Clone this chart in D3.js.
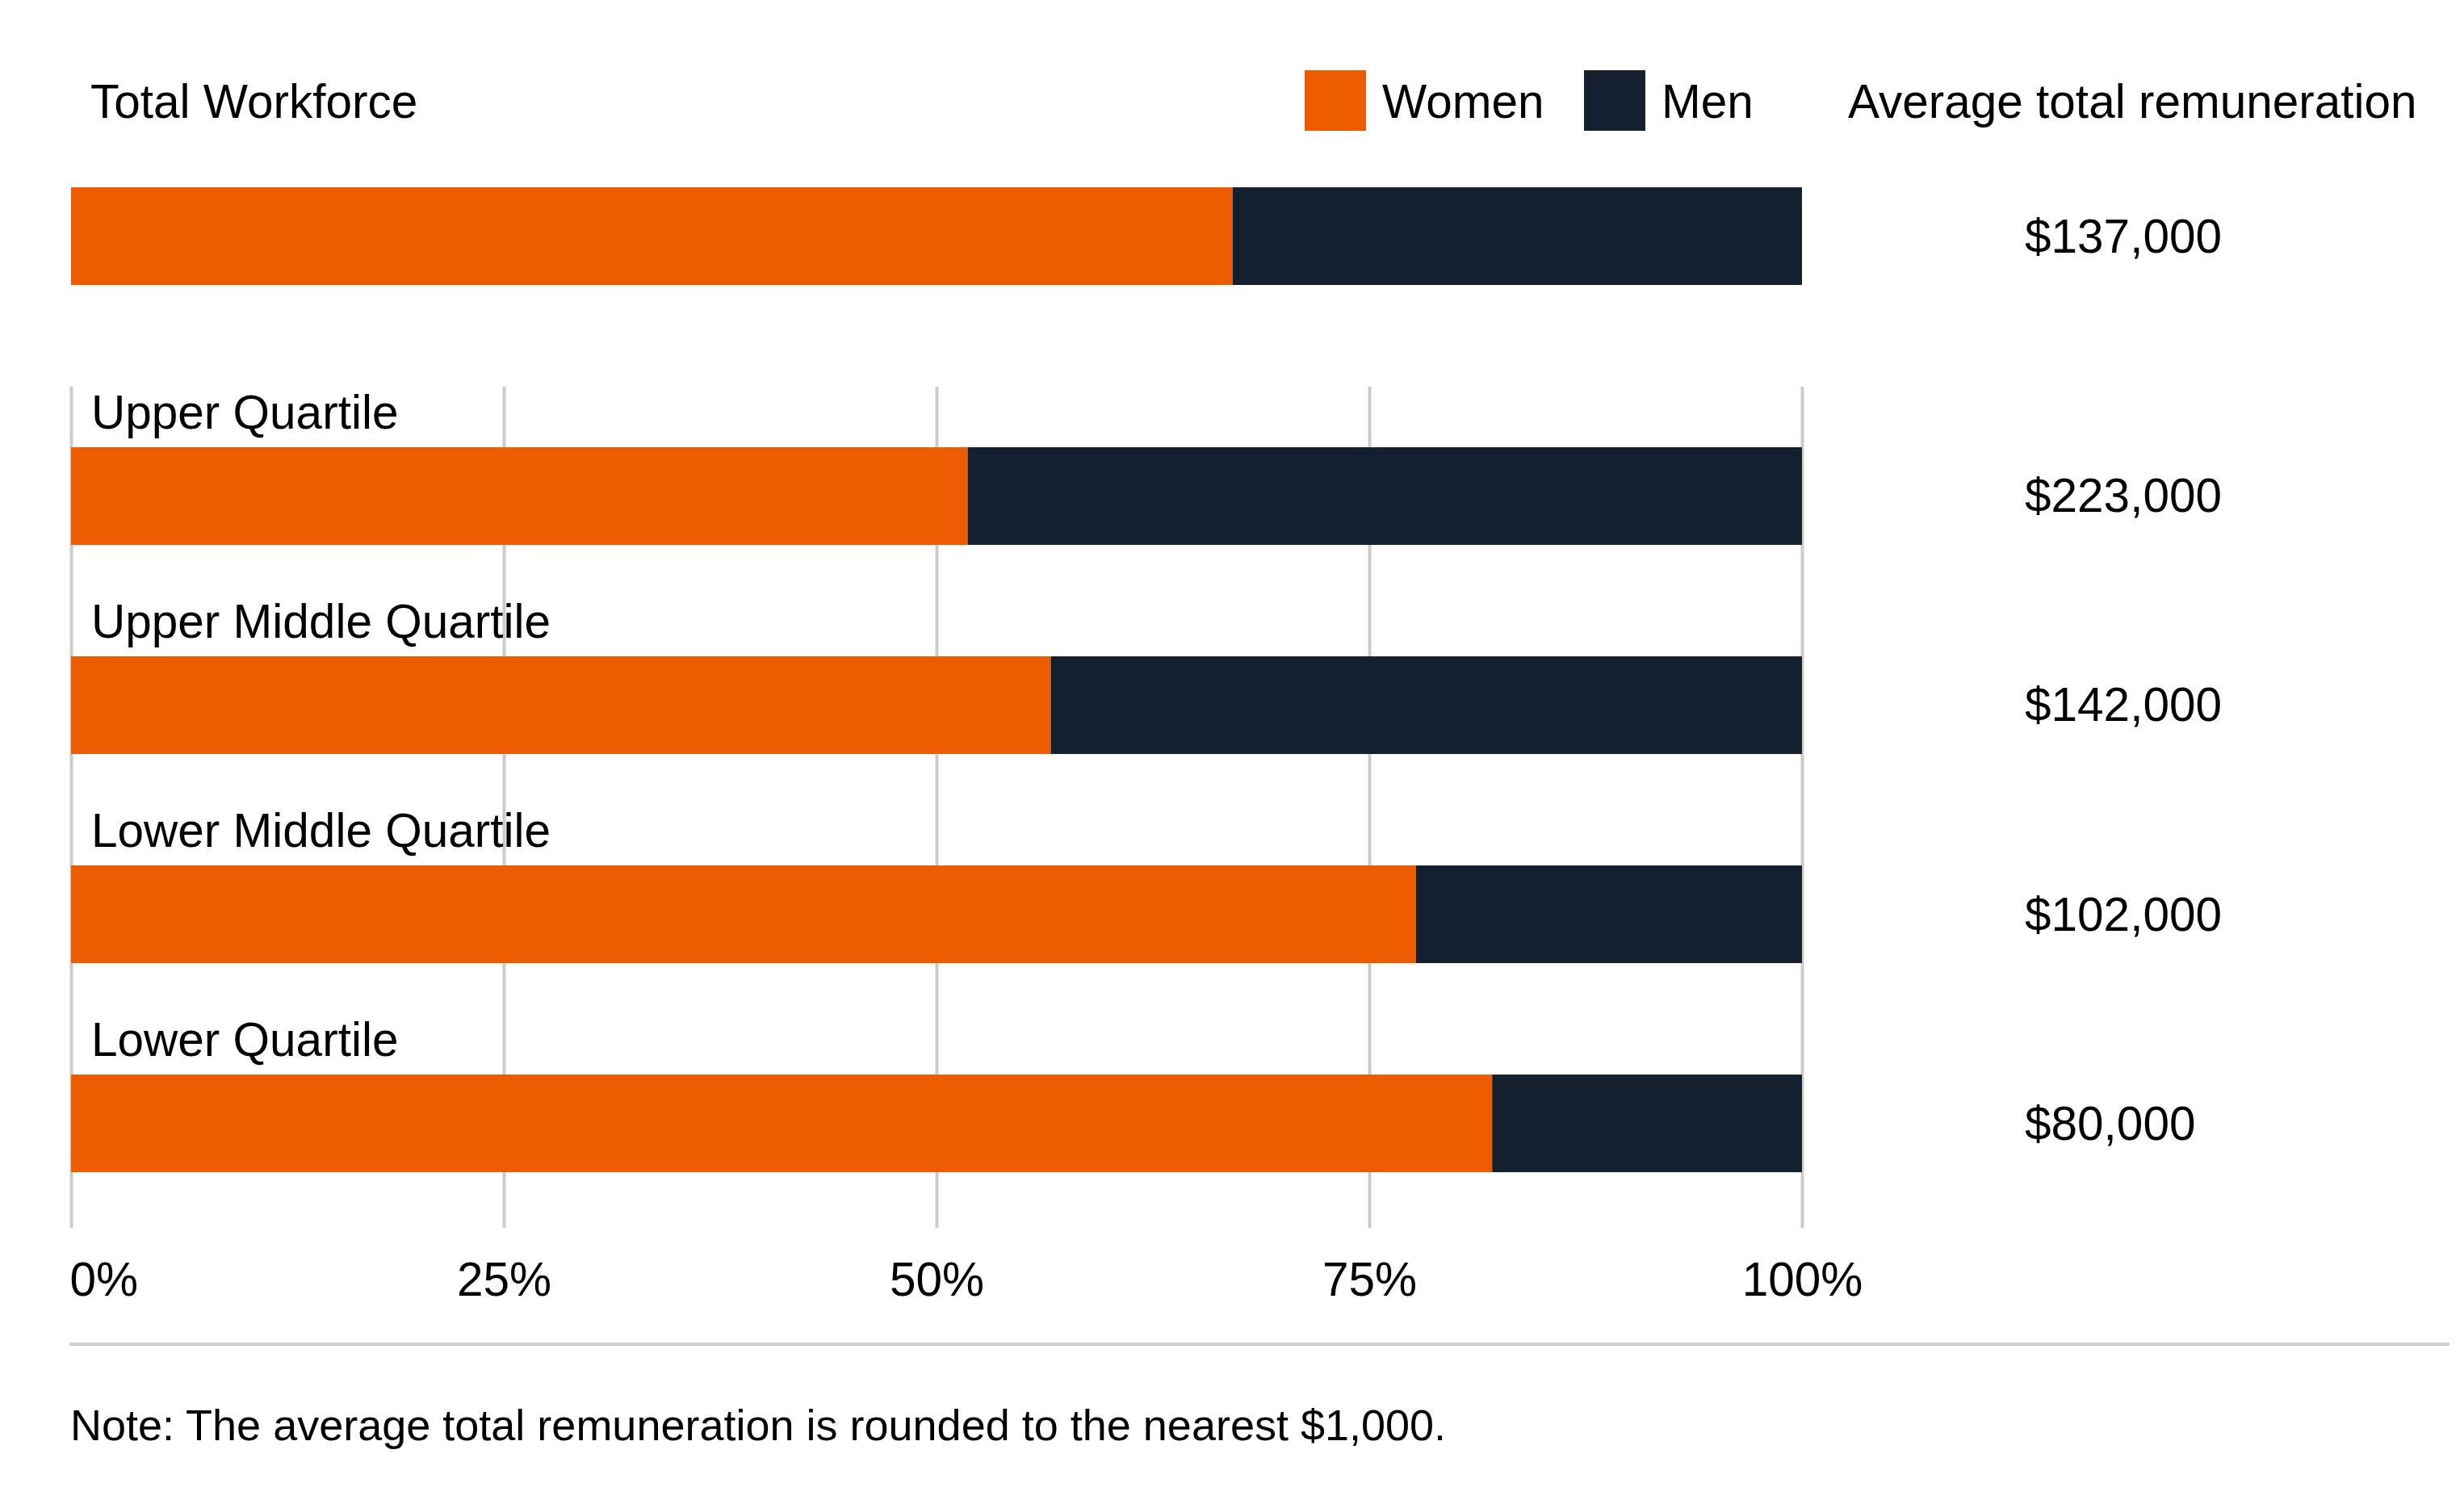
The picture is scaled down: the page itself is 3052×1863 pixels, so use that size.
<!DOCTYPE html>
<html>
<head>
<meta charset="utf-8">
<script src="https://cdn.jsdelivr.net/npm/d3@7"></script>
<style>
  body { margin: 0; background: #fff; }
  text { font-family: "Liberation Sans", Arial, sans-serif; fill: #000; }
</style>
</head>
<body>
<div id="chart"></div>
<script>
// data
var totalLabel = "Total Workforce";
var totalWomen = 67.1;
var totalPay = "$137,000";

var quartiles = ["Upper Quartile", "Upper Middle Quartile", "Lower Middle Quartile", "Lower Quartile"];
var womenPct = [51.8, 56.6, 77.7, 82.1];
var payLabels = ["$223,000", "$142,000", "$102,000", "$80,000"];

var seriesNames = ["Women", "Men"];
var seriesColors = ["#ED5C00", "#15202E"];
var tickValues = [0, 25, 50, 75, 100];

var noteText = "Note: The average total remuneration is rounded to the nearest $1,000.";

var width = 3052, height = 1863;
var fontSize = 58.5;

var svg = d3.select("#chart").append("svg")
    .attr("width", width)
    .attr("height", height);

var x = d3.scaleLinear().domain([0, 100]).range([88, 2232]);
var color = d3.scaleOrdinal().domain(seriesNames).range(seriesColors);

// quartile rows
var y = d3.scaleBand()
    .domain(quartiles)
    .range([554, 1452])
    .paddingInner(0.533)
    .paddingOuter(0);

// total workforce row
var yTotal = d3.scaleBand().domain([totalLabel]).range([232, 353]);

// gridlines + axis
var axis = d3.axisBottom(x)
    .tickValues(tickValues)
    .tickSize(-(1521 - 479))
    .tickFormat(function(d){ return d + "%"; });

var gAxis = svg.append("g")
    .attr("transform", "translate(0,1521)")
    .call(axis);
gAxis.select(".domain").remove();
gAxis.selectAll("line").attr("stroke", "#cccccc").attr("stroke-width", 4);
gAxis.selectAll("text")
    .attr("y", 84)
    .attr("dy", 0)
    .style("font-size", fontSize + "px")
    .style("font-family", "'Liberation Sans', Arial, sans-serif")
    .attr("fill", "#000")
    .attr("text-anchor", function(d){ return d == 0 ? "start" : "middle"; })
    .attr("dx", function(d){ return d == 0 ? -2 : 0; });

// build stacked rows
var rows = quartiles.map(function(q, i){
    return {name: q, Women: womenPct[i], Men: 100 - womenPct[i], pay: payLabels[i]};
});
var stack = d3.stack().keys(seriesNames);

var layers = svg.append("g").selectAll("g")
    .data(stack(rows))
    .enter().append("g")
    .attr("fill", function(d){ return color(d.key); });

layers.selectAll("rect")
    .data(function(d){ return d; })
    .enter().append("rect")
    .attr("x", function(d){ return x(d[0]); })
    .attr("width", function(d){ return x(d[1]) - x(d[0]); })
    .attr("y", function(d){ return y(d.data.name); })
    .attr("height", y.bandwidth());

var totalRow = [{name: totalLabel, Women: totalWomen, Men: 100 - totalWomen}];
svg.append("g").selectAll("g")
    .data(stack(totalRow))
    .enter().append("g")
    .attr("fill", function(d){ return color(d.key); })
    .selectAll("rect")
    .data(function(d){ return d; })
    .enter().append("rect")
    .attr("x", function(d){ return x(d[0]); })
    .attr("width", function(d){ return x(d[1]) - x(d[0]); })
    .attr("y", function(d){ return yTotal(d.data.name); })
    .attr("height", yTotal.bandwidth());

// category labels above bars
svg.append("g").selectAll("text")
    .data(quartiles)
    .enter().append("text")
    .attr("x", 113)
    .attr("y", function(d){ return y(d) - 23; })
    .style("font-size", fontSize + "px")
    .text(function(d){ return d; });

svg.append("text")
    .attr("x", 112)
    .attr("y", 146)
    .style("font-size", fontSize + "px")
    .text(totalLabel);

// remuneration values
svg.append("g").selectAll("text")
    .data(rows)
    .enter().append("text")
    .attr("x", 2508)
    .attr("y", function(d){ return y(d.name) + y.bandwidth() / 2 + 20; })
    .style("font-size", fontSize + "px")
    .text(function(d){ return d.pay; });

svg.append("text")
    .attr("x", 2508)
    .attr("y", yTotal(totalLabel) + yTotal.bandwidth() / 2 + 20)
    .style("font-size", fontSize + "px")
    .text(totalPay);

svg.append("text")
    .attr("x", 2289)
    .attr("y", 146)
    .style("font-size", fontSize + "px")
    .text("Average total remuneration");

// legend
var legendX = [1616, 1962];
var legend = svg.append("g").selectAll("g")
    .data(seriesNames)
    .enter().append("g")
    .attr("transform", function(d, i){ return "translate(" + legendX[i] + ",87)"; });
legend.append("rect")
    .attr("width", 76)
    .attr("height", 75)
    .attr("fill", function(d){ return color(d); });
legend.append("text")
    .attr("x", 96)
    .attr("y", 59)
    .style("font-size", fontSize + "px")
    .text(function(d){ return d; });

// separator + note
svg.append("line")
    .attr("x1", 86).attr("x2", 3034)
    .attr("y1", 1665).attr("y2", 1665)
    .attr("stroke", "#d0d0d0")
    .attr("stroke-width", 4);

svg.append("text")
    .attr("x", 87)
    .attr("y", 1784)
    .style("font-size", "54px")
    .text(noteText);
</script>
</body>
</html>
